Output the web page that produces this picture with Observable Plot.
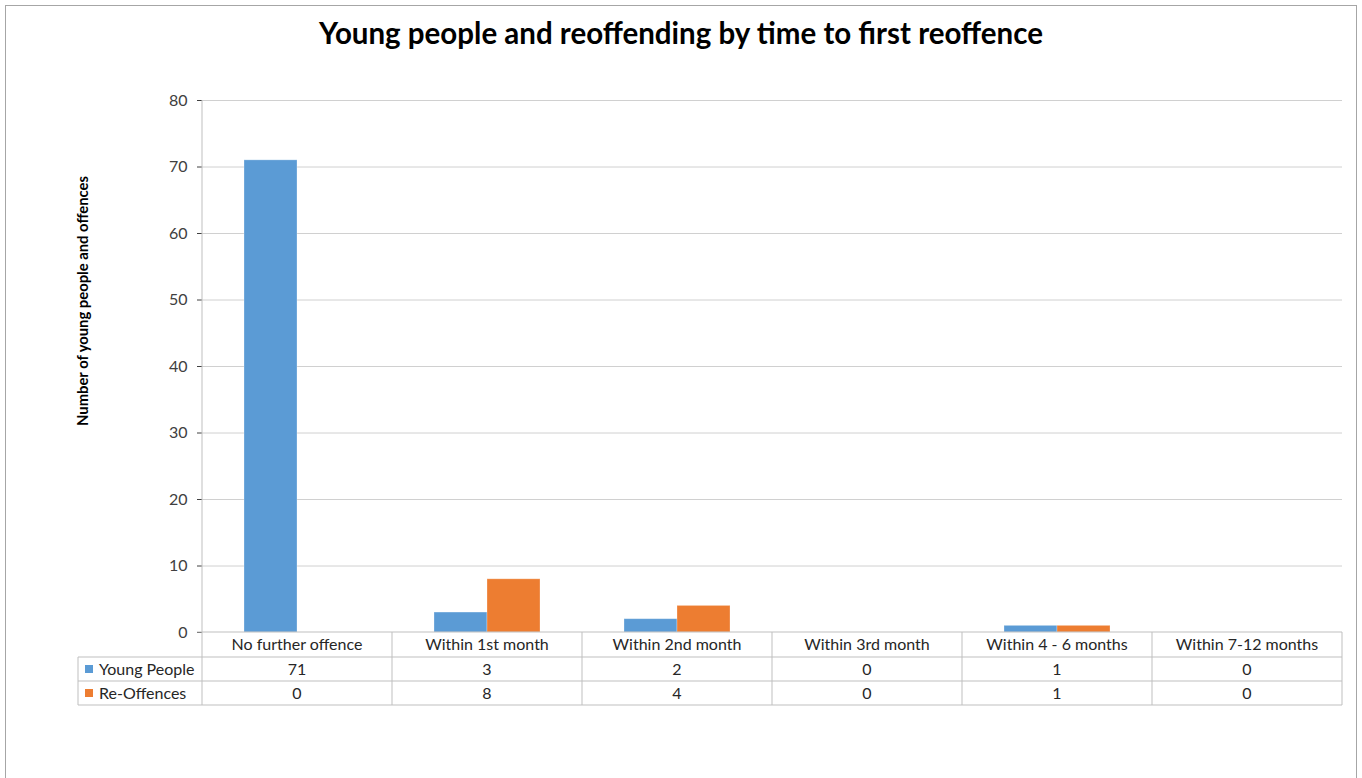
<!DOCTYPE html>
<html>
<head>
<meta charset="utf-8">
<script src="https://cdn.jsdelivr.net/npm/d3@7"></script>
<script src="https://cdn.jsdelivr.net/npm/@observablehq/plot@0.6"></script>
<style>
  html, body { margin: 0; padding: 0; background: #fff; }
  body { width: 1362px; height: 778px; position: relative; overflow: hidden; font-family: Lato, "Open Sans", sans-serif; }
  #frame { position: absolute; left: 5px; top: 5px; width: 1352px; height: 800px; border: 1px solid #a6a6a6; box-sizing: border-box; pointer-events: none; }
  #title { position: absolute; left: 0; top: 15px; width: 1362px; text-align: center; font-family: Lato, sans-serif; font-weight: 700; font-size: 29.5px; color: #000; }
  #chart { position: absolute; left: 0; top: 0; }
  #ylabel { position: absolute; left: 82px; top: 301px; transform: translate(-50%, -50%) rotate(-90deg); white-space: nowrap; font-family: Lato, sans-serif; font-weight: 700; font-size: 14.8px; color: #000; }
</style>
</head>
<body>
<div id="frame"></div>
<div id="chart"></div>
<div id="title">Young people and reoffending by time to first reoffence</div>
<div id="ylabel">Number of young people and offences</div>
<script>
const categories = ["No further offence", "Within 1st month", "Within 2nd month", "Within 3rd month", "Within 4 - 6 months", "Within 7-12 months"];
const youngPeople = [71, 3, 2, 0, 1, 0];
const reOffences = [0, 8, 4, 0, 1, 0];
const seriesNames = ["Young People", "Re-Offences"];
const seriesColors = ["#5B9BD5", "#ED7D31"];
const yTicks = [0, 10, 20, 30, 40, 50, 60, 70, 80];

const seriesValues = [youngPeople, reOffences];
const data = categories.flatMap((c, i) => seriesNames.map((s, j) => ({cat: c, series: s, value: seriesValues[j][i]})));

const FS = 16;
const plot = Plot.plot({
  width: 1362,
  height: 778,
  marginTop: 100,
  marginBottom: 146,
  marginLeft: 201,
  marginRight: 19,
  style: {fontFamily: "Lato, sans-serif", fontSize: FS + "px", color: "#404040", background: "transparent"},
  fx: {domain: categories, padding: 0, axis: null, label: null},
  x: {domain: seriesNames, paddingInner: 0, paddingOuter: 0.76, axis: null, label: null},
  y: {domain: [0, 80], ticks: yTicks, tickSize: 5, tickPadding: 10, label: null},
  color: {domain: seriesNames, range: seriesColors},
  marks: [
    Plot.ruleY(yTicks.slice(1), {stroke: "#d0d0d0", strokeWidth: 1}),
    Plot.barY(data, {fx: "cat", x: "series", y: "value", fill: "series", stroke: "#ffffff", strokeOpacity: 0.35, strokeWidth: 0.8})
  ]
});
document.getElementById("chart").appendChild(plot);

// Data table under the chart, laid out from the plot's own scales
const svg = d3.select(plot);
const fx = plot.scale("fx");
const ys = plot.scale("y");
const y0 = ys.apply(0);
const yTop = ys.apply(80);
const bw = fx.bandwidth;
const xStart = fx.apply(categories[0]);
const xEnd = fx.apply(categories[categories.length - 1]) + bw;
const rowH = [25, 24, 24];
const rowY = [y0, y0 + rowH[0], y0 + rowH[0] + rowH[1], y0 + rowH[0] + rowH[1] + rowH[2]];
const legendLeft = 78;
const lineColor = "#bfbfbf";
const g = svg.append("g").attr("font-size", FS).attr("fill", "#262626");

// axis line
g.append("line").attr("x1", xStart).attr("x2", xStart).attr("y1", yTop).attr("y2", rowY[3]).attr("stroke", lineColor);
// baseline
g.append("line").attr("x1", xStart - 5).attr("x2", xEnd).attr("y1", y0).attr("y2", y0).attr("stroke", lineColor);
// horizontal table lines
for (let r = 1; r <= 3; r++) {
  g.append("line").attr("x1", legendLeft).attr("x2", xEnd).attr("y1", rowY[r]).attr("y2", rowY[r]).attr("stroke", lineColor);
}
// left legend column border
g.append("line").attr("x1", legendLeft).attr("x2", legendLeft).attr("y1", rowY[1]).attr("y2", rowY[3]).attr("stroke", lineColor);
// column separators
categories.forEach(c => {
  const xr = fx.apply(c) + bw;
  g.append("line").attr("x1", xr).attr("x2", xr).attr("y1", y0).attr("y2", rowY[3]).attr("stroke", lineColor);
});
// header labels
categories.forEach(c => {
  g.append("text").attr("x", fx.apply(c) + bw / 2).attr("y", (rowY[0] + rowY[1]) / 2).attr("dy", "0.35em")
    .attr("text-anchor", "middle").text(c);
});
// series rows
seriesNames.forEach((s, j) => {
  const yc = (rowY[j + 1] + rowY[j + 2]) / 2;
  g.append("rect").attr("x", legendLeft + 7).attr("y", yc - 4).attr("width", 8).attr("height", 8).attr("fill", seriesColors[j]);
  g.append("text").attr("x", legendLeft + 21).attr("y", yc).attr("dy", "0.35em").attr("text-anchor", "start").text(s);
  categories.forEach((c, i) => {
    g.append("text").attr("x", fx.apply(c) + bw / 2).attr("y", yc).attr("dy", "0.35em")
      .attr("text-anchor", "middle").text(seriesValues[j][i]);
  });
});
</script>
</body>
</html>
